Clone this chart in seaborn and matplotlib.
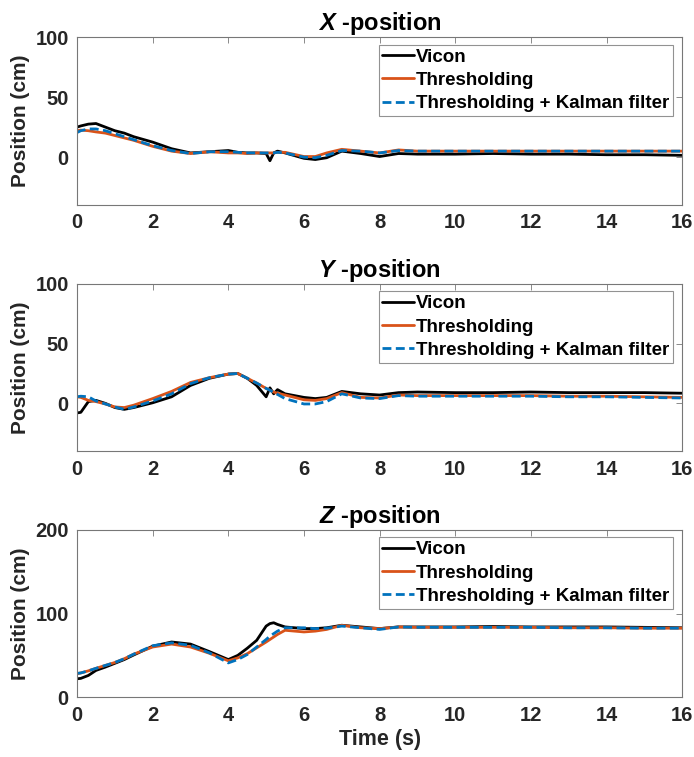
import matplotlib
matplotlib.use("Agg")
import matplotlib.pyplot as plt
import seaborn as sns
import pandas as pd

sns.set_theme(style="white")
plt.rcParams['font.family'] = ['Liberation Sans', 'DejaVu Sans']
plt.rcParams['mathtext.fontset'] = 'custom'
plt.rcParams['mathtext.bfit'] = 'Liberation Sans:italic:bold'
plt.rcParams['mathtext.it'] = 'Liberation Sans:italic:bold'
plt.rcParams['mathtext.rm'] = 'Liberation Sans:bold'

# ---- data ----
time = [0, 0.1, 0.3, 0.5, 0.75, 1, 1.25, 1.5, 2, 2.5, 3, 3.5, 4, 4.25, 4.5, 4.75,
        5, 5.1, 5.2, 5.3, 5.5, 6, 6.3, 6.6, 7, 7.5, 8, 8.5, 9, 10, 11, 12, 13, 14, 15, 16]

x_vicon = [25, 26, 27.5, 28, 25, 22, 20, 17, 12.5, 7, 3.5, 4.5, 5.5, 4, 3.5, 3.5,
           3, -3, 3.5, 5, 3.5, -1, -2, -0.5, 5, 3, 0.5, 3, 2.5, 2.5, 3, 2.5, 2.5, 2, 2, 1.5]
x_thresh = [22, 22.5, 22, 21, 20, 18, 16, 14, 9, 5, 3, 4.5, 3.5, 3.5, 3, 3.5,
            3.5, 3.5, 3.5, 4, 4, 0.5, 0.5, 3.5, 6.5, 5, 3.5, 6, 5, 5, 5, 5, 5, 5, 5, 5]
x_kalman = [20.5, 22, 23.5, 23.5, 22, 19.5, 17, 14.5, 9.5, 5.5, 3, 4.5, 4.5, 4, 3.5, 3.5,
            3.5, 3.5, 3.5, 4, 3.5, 0, -0.5, 1.5, 5.5, 5, 3.5, 5.5, 5, 5, 5, 5, 5, 5, 5, 5]

y_vicon = [-8, -7.5, 1.5, 2.5, 0, -3.5, -5, -3.5, 0.5, 5.5, 15, 21, 24.5, 25, 21, 15,
           5.5, 13, 8, 11.5, 8, 5, 4, 5, 10, 8, 7, 9, 9.5, 9, 9, 9.5, 9, 9, 9, 8.5]
y_thresh = [5.5, 5, 2.5, 1.5, -0.5, -3, -3.5, -1.5, 4, 10, 17.5, 21.5, 24.5, 25, 21, 17,
            12.5, 11, 9.5, 8.5, 7, 3, 2.5, 4, 9, 5, 4.5, 7, 6.5, 6.5, 6.5, 6.5, 6, 6, 5.5, 5]
y_kalman = [5.5, 6, 5.5, 2, -0.5, -3, -5, -3, 2, 8, 16.5, 21.5, 24.5, 25, 21, 17,
            12.5, 11, 9, 7.5, 4, -0.5, -0.5, 1.5, 8, 4.5, 4, 6.5, 6, 6, 6, 6, 5.5, 5.5, 5, 4.5]

z_vicon = [22, 22.5, 26, 32, 36, 40.5, 45, 50.5, 61, 66, 63.5, 54.5, 45, 50, 58.5, 68,
           85, 88, 89, 87, 84, 82, 82, 83, 86, 84, 82, 84, 84, 84, 84.5, 84, 84, 84, 83.5, 83]
z_thresh = [28, 29, 31.5, 34.5, 38, 41.5, 46, 51.5, 60, 63.5, 60, 52.5, 43.5, 47, 52, 59,
            66, 69, 72, 75, 80, 78, 79, 81, 86, 83, 82, 84, 83.5, 83.5, 83.5, 83.5, 83, 83, 82.5, 82.5]
z_kalman = [28.5, 29, 31.5, 34.5, 38, 41.5, 46, 51.5, 61.5, 65, 62, 53, 41, 45, 51, 60,
            69, 73, 76, 79, 83, 83, 82, 82.5, 85, 83, 81, 84, 83.5, 83.5, 83.5, 83.5, 83, 83, 82.5, 82.5]

series_names = ["Vicon", "Thresholding", "Thresholding + Kalman filter"]
titles = [r"$\mathbfit{X}$ -position", r"$\mathbfit{Y}$ -position", r"$\mathbfit{Z}$ -position"]
panels = [(x_vicon, x_thresh, x_kalman), (y_vicon, y_thresh, y_kalman), (z_vicon, z_thresh, z_kalman)]
ylims = [(-40, 100), (-40, 100), (0, 200)]
yticks = [[0, 50, 100], [0, 50, 100], [0, 100, 200]]
xticks = [0, 2, 4, 6, 8, 10, 12, 14, 16]

colors = ["#000000", "#D95319", "#0072BD"]
styles = ["-", "-", (0, (3.2, 1.6))]

fig = plt.figure(figsize=(6.94, 7.57), dpi=100)
axes_pos = [
    [0.111, 0.729, 0.872, 0.222],
    [0.111, 0.404, 0.872, 0.221],
    [0.111, 0.079, 0.872, 0.221],
]
tick_color = "#262626"
for i, (pos, data) in enumerate(zip(axes_pos, panels)):
    ax = fig.add_axes(pos)
    df = pd.DataFrame({"time": time * 3,
                       "pos": list(data[0]) + list(data[1]) + list(data[2]),
                       "src": [series_names[0]] * len(time) + [series_names[1]] * len(time) + [series_names[2]] * len(time)})
    for k, name in enumerate(series_names):
        sub = df[df["src"] == name]
        sns.lineplot(data=sub, x="time", y="pos", ax=ax, color=colors[k], linewidth=2.0,
                     linestyle=styles[k], label=name, estimator=None, sort=False)
    ax.set_xlim(0, 16)
    ax.set_ylim(*ylims[i])
    ax.set_xticks(xticks)
    ax.set_yticks(yticks[i])
    ax.tick_params(direction="in", length=4, width=0.6, top=True, right=True,
                   labelsize=14.5, colors="#777777", labelcolor=tick_color, pad=6)
    for lab in ax.get_xticklabels() + ax.get_yticklabels():
        lab.set_fontweight("bold")
    for sp in ax.spines.values():
        sp.set_visible(True)
        sp.set_color("#777777")
        sp.set_linewidth(0.8)
    ax.set_ylabel("Position (cm)", fontsize=15, fontweight="bold", color=tick_color, labelpad=4)
    if i == 2:
        ax.set_xlabel("Time (s)", fontsize=15.5, fontweight="bold", color=tick_color, labelpad=3)
    else:
        ax.set_xlabel("")
    ax.set_title(titles[i], fontsize=17, fontweight="bold", color="black", pad=5)
    leg = ax.legend(loc="upper right", bbox_to_anchor=(0.985, 0.955), fontsize=13.5,
                    frameon=True, fancybox=False, handlelength=1.7, handletextpad=0.1,
                    labelspacing=0.33, borderpad=0.2, borderaxespad=0.0)
    leg.get_frame().set_edgecolor("#777777")
    leg.get_frame().set_linewidth(0.8)
    for t in leg.get_texts():
        t.set_fontweight("bold")
        t.set_color("black")

fig.savefig("out.png", dpi=100)
